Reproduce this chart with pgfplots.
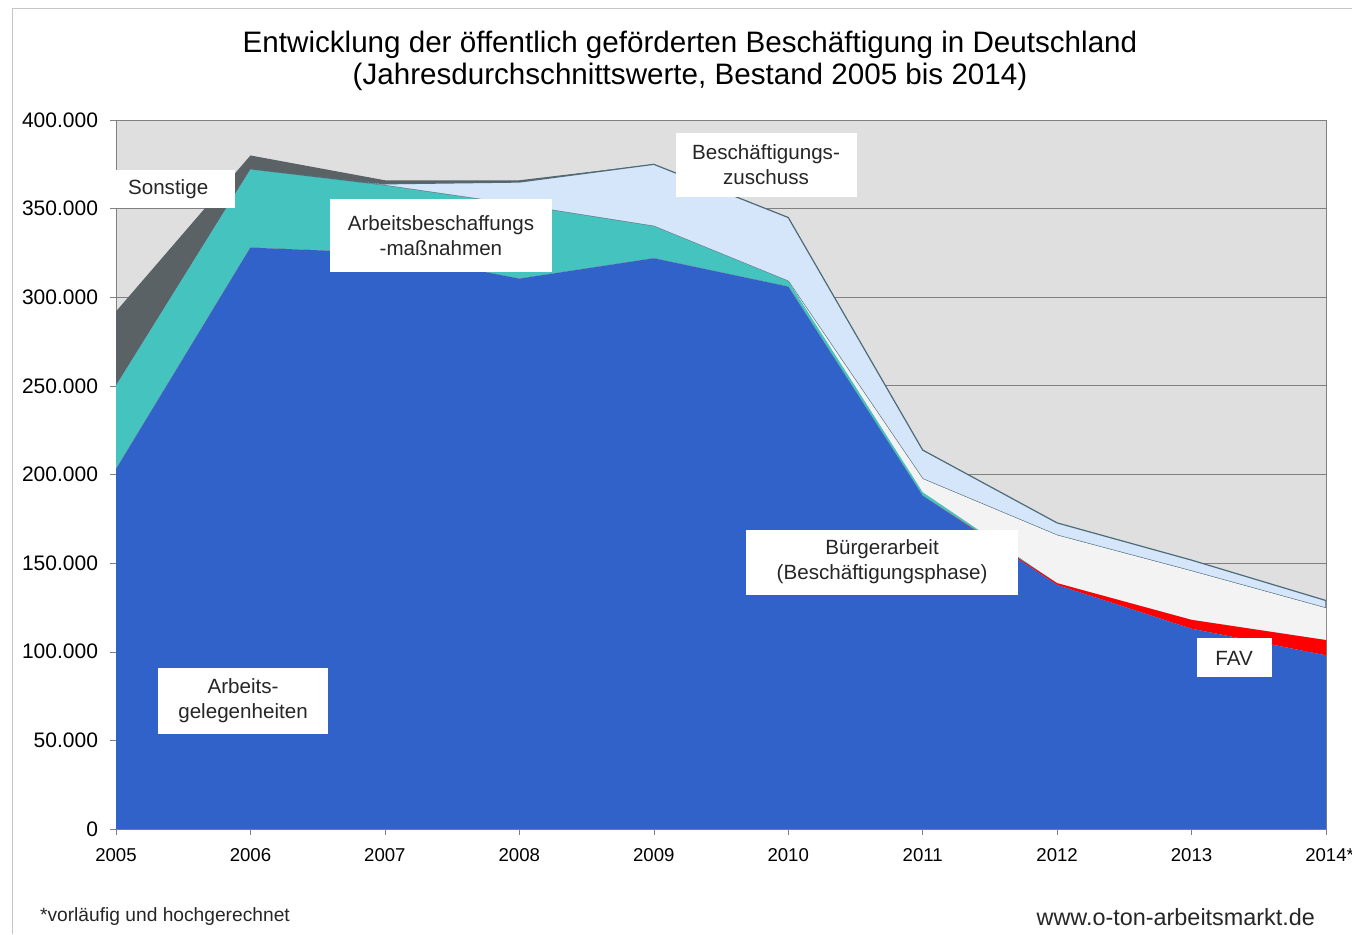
\documentclass[border=0pt]{standalone}
\usepackage{fontspec}
\setmainfont{Liberation Sans}
\usepackage{pgfplots}
\pgfplotsset{compat=1.18}
\usepackage{pgfplotstable}
\definecolor{agh}{HTML}{3062C9}
\definecolor{fav}{HTML}{FF0000}
\definecolor{abm}{HTML}{45C3BF}
\definecolor{bue}{HTML}{F3F3F3}
\definecolor{bez}{HTML}{D5E6FA}
\definecolor{son}{HTML}{5A6266}
\definecolor{plotbg}{HTML}{DFDFDF}
\definecolor{edge}{HTML}{4D6B78}
\definecolor{gridc}{HTML}{808080}

\pgfplotstableread{
year AGH FAV ABM BA BEZ SON
2005 203000 0 47000 0 0 42000
2006 328000 0 44000 0 0 8000
2007 325000 0 38000 0 1000 2000
2008 310500 0 41500 0 13000 1000
2009 322000 0 18000 0 35000 0
2010 306000 0 3000 0 36000 0
2011 188000 0 2000 7500 16300 0
2012 137700 1000 0 27000 7000 0
2013 113000 5000 0 27500 6200 0
2014 98000 8600 0 18000 4300 0
}\data

\begin{document}
\begin{tikzpicture}
\draw[gray!45] (6pt,0pt) -- (6pt,463pt) -- (676pt,463pt);
\node[font=\fontsize{14.8}{17}\selectfont] at (345pt,444.5pt) {Entwicklung der öffentlich geförderten Beschäftigung in Deutschland};
\node[font=\fontsize{14.8}{17}\selectfont] at (345pt,428.5pt) {(Jahresdurchschnittswerte, Bestand 2005 bis 2014)};
\begin{axis}[
  at={(58pt,52.5pt)}, anchor=south west,
  scale only axis, width=605pt, height=354.5pt,
  xmin=2005, xmax=2014, ymin=0, ymax=400000,
  stack plots=y,
  set layers,
  axis on top=false,
  axis background/.style={fill=plotbg},
  xtick={2005,2006,2007,2008,2009,2010,2011,2012,2013,2014},
  xticklabels={2005,2006,2007,2008,2009,2010,2011,2012,2013,2014\rlap{*}},
  ytick={0,50000,100000,150000,200000,250000,300000,350000,400000},
  scaled y ticks=false,
  yticklabel style={/pgf/number format/fixed, /pgf/number format/1000 sep={.}},
  /pgf/number format/assume math mode=true,
  ymajorgrids, grid style={gridc, line width=0.5pt},
  axis line style={gridc},
  tick style={gridc},
  tick align=outside, major tick length=3pt,
  xtick pos=bottom, ytick pos=left,
  x tick label style={font=\fontsize{9.3}{11}\selectfont, yshift=-3pt},
  y tick label style={font=\fontsize{10.5}{12}\selectfont, xshift=-2.5pt},
]
\addplot[fill=agh, draw=none] table[x=year, y=AGH] {\data} \closedcycle;
\addplot[fill=fav, draw=none] table[x=year, y=FAV] {\data} \closedcycle;
\addplot[fill=abm, draw=none] table[x=year, y=ABM] {\data} \closedcycle;
\addplot[fill=bue, draw=none] table[x=year, y=BA] {\data} \closedcycle;
\addplot[fill=bez, draw=edge, line width=0.6pt] table[x=year, y=BEZ] {\data} \closedcycle;
\addplot[fill=son, draw=none] table[x=year, y=SON] {\data} \closedcycle;

\coordinate (lSON) at (axis cs:2005.44,361100);
\coordinate (lABM) at (axis cs:2007.417,334600);
\coordinate (lBEZ) at (axis cs:2009.835,374600);
\coordinate (lBA) at (axis cs:2010.698,150600);
\coordinate (lFAV) at (axis cs:2013.316,96500);
\coordinate (lAGH) at (axis cs:2005.945,72200);
\end{axis}
\tikzset{lbl/.style={fill=white, inner sep=0pt, align=center, font=\fontsize{10.3}{12.5}\selectfont, text=black!85}}
\node[lbl, minimum width=60pt, minimum height=19pt] at (lSON) {};
\node[lbl, fill=none] at ([xshift=-3.5pt]lSON) {Sonstige};
\node[lbl, minimum width=111pt, minimum height=36.5pt] at (lABM) {Arbeitsbeschaffungs\\-maßnahmen};
\node[lbl, minimum width=90.5pt, minimum height=32pt] at (lBEZ) {Beschäftigungs-\\zuschuss};
\node[lbl, minimum width=136pt, minimum height=32.5pt] at (lBA) {Bürgerarbeit\\(Beschäftigungsphase)};
\node[lbl, minimum width=37.5pt, minimum height=19.5pt] at (lFAV) {FAV};
\node[lbl, minimum width=85pt, minimum height=33pt] at (lAGH) {Arbeits-\\gelegenheiten};
\node[anchor=west, font=\fontsize{9.6}{11}\selectfont, text=black!85] at (16.5pt,8.5pt) {*vorläufig und hochgerechnet};
\node[anchor=east, font=\fontsize{11.7}{13}\selectfont, text=black!85] at (661pt,8.5pt) {www.o-ton-arbeitsmarkt.de};
\pgfresetboundingbox
\useasboundingbox (0pt,0pt) rectangle (676pt,467pt);
\end{tikzpicture}
\end{document}
